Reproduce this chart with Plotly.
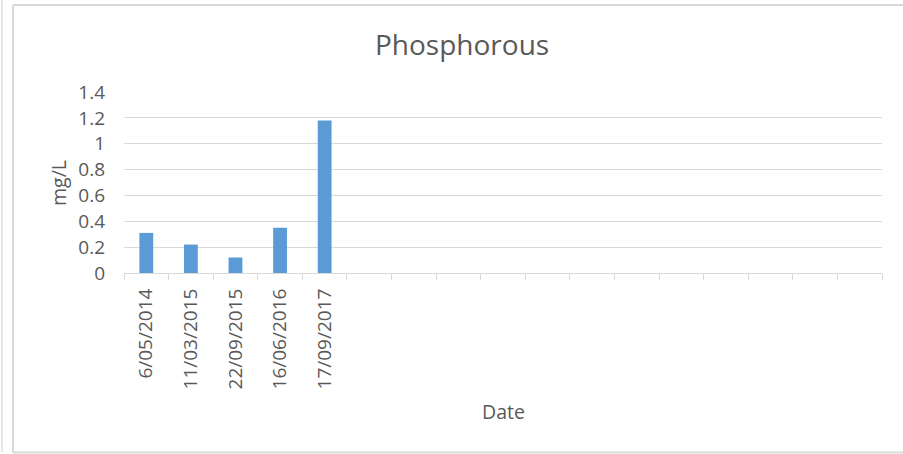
import plotly.graph_objects as go

# Sampling dates and measured phosphorous (mg/L)
dates = ["6/05/2014", "11/03/2015", "22/09/2015", "16/06/2016", "17/09/2017"]
phosphorous = [0.31, 0.22, 0.12, 0.35, 1.18]

# The category axis reserves room for further samples (blank slots)
n_slots = 17
blank_slots = [" " * (k + 1) for k in range(n_slots - len(dates))]
categories = dates + blank_slots

y_ticks = [0, 0.2, 0.4, 0.6, 0.8, 1, 1.2, 1.4]
y_tick_text = ["0", "0.2", "0.4", "0.6", "0.8", "1", "1.2", "1.4"]

W, H = 903, 454
L, R, T, B = 124, 882, 92, 273  # plot area in pixels

FONT = "Open Sans"
TEXT = "#595959"
GRID = "#d9d9d9"
BAR = "#5b9bd5"


def px_x(x):
    return (x - L) / (R - L)


def px_y(y):
    return (B - y) / (B - T)


fig = go.Figure(
    go.Bar(
        x=dates,
        y=phosphorous,
        marker=dict(color=BAR, line=dict(width=0)),
        hoverinfo="x+y",
    )
)

fig.update_layout(
    width=W,
    height=H,
    margin=dict(l=L, r=W - R, t=T, b=H - B, pad=0),
    paper_bgcolor="white",
    plot_bgcolor="white",
    showlegend=False,
    bargap=0.69,
    font=dict(family=FONT, color=TEXT),
)

fig.update_xaxes(
    type="category",
    categoryorder="array",
    categoryarray=categories,
    range=[-0.5, n_slots - 0.5],
    tickson="boundaries",
    ticks="outside",
    ticklen=6,
    tickcolor=GRID,
    tickwidth=1,
    showline=True,
    linecolor=GRID,
    linewidth=1,
    showgrid=False,
    tickangle=-90,
    tickfont=dict(family=FONT, size=19, color=TEXT),
    ticklabelstandoff=7,
    fixedrange=True,
)

fig.update_yaxes(
    range=[0, 1.4],
    tickvals=y_ticks,
    ticktext=y_tick_text,
    showgrid=True,
    gridcolor=GRID,
    gridwidth=1,
    zeroline=False,
    showline=False,
    ticks="",
    tickfont=dict(family=FONT, size=19, color=TEXT),
    ticklabelstandoff=18,
    fixedrange=True,
)

# Chart title and axis titles
fig.add_annotation(
    text="Phosphorous", x=px_x(462), y=px_y(44), xref="paper", yref="paper",
    xanchor="center", yanchor="middle", showarrow=False,
    font=dict(family=FONT, size=28, color=TEXT),
)
fig.add_annotation(
    text="mg/L", x=px_x(58), y=px_y(183), xref="paper", yref="paper",
    xanchor="center", yanchor="middle", textangle=-90, showarrow=False,
    font=dict(family=FONT, size=19.5, color=TEXT),
)
fig.add_annotation(
    text="Date", x=px_x(503), y=px_y(411), xref="paper", yref="paper",
    xanchor="center", yanchor="middle", showarrow=False,
    font=dict(family=FONT, size=19.5, color=TEXT),
)

# Chart frame (open to the right) and the thin rule along the left edge
frame = dict(color=GRID, width=2)
for x0, y0, x1, y1 in [(13, 5, W, 5), (13, 5, 13, 452.5), (13, 452.5, W, 452.5)]:
    fig.add_shape(
        type="line", xref="paper", yref="paper",
        x0=px_x(x0), x1=px_x(x1), y0=px_y(y0), y1=px_y(y1),
        line=frame, layer="below",
    )
fig.add_shape(
    type="line", xref="paper", yref="paper",
    x0=px_x(2), x1=px_x(2), y0=px_y(0), y1=px_y(452),
    line=dict(color="#e6e6e6", width=2), layer="below",
)

fig.write_html("out.html", config={"displayModeBar": False})
